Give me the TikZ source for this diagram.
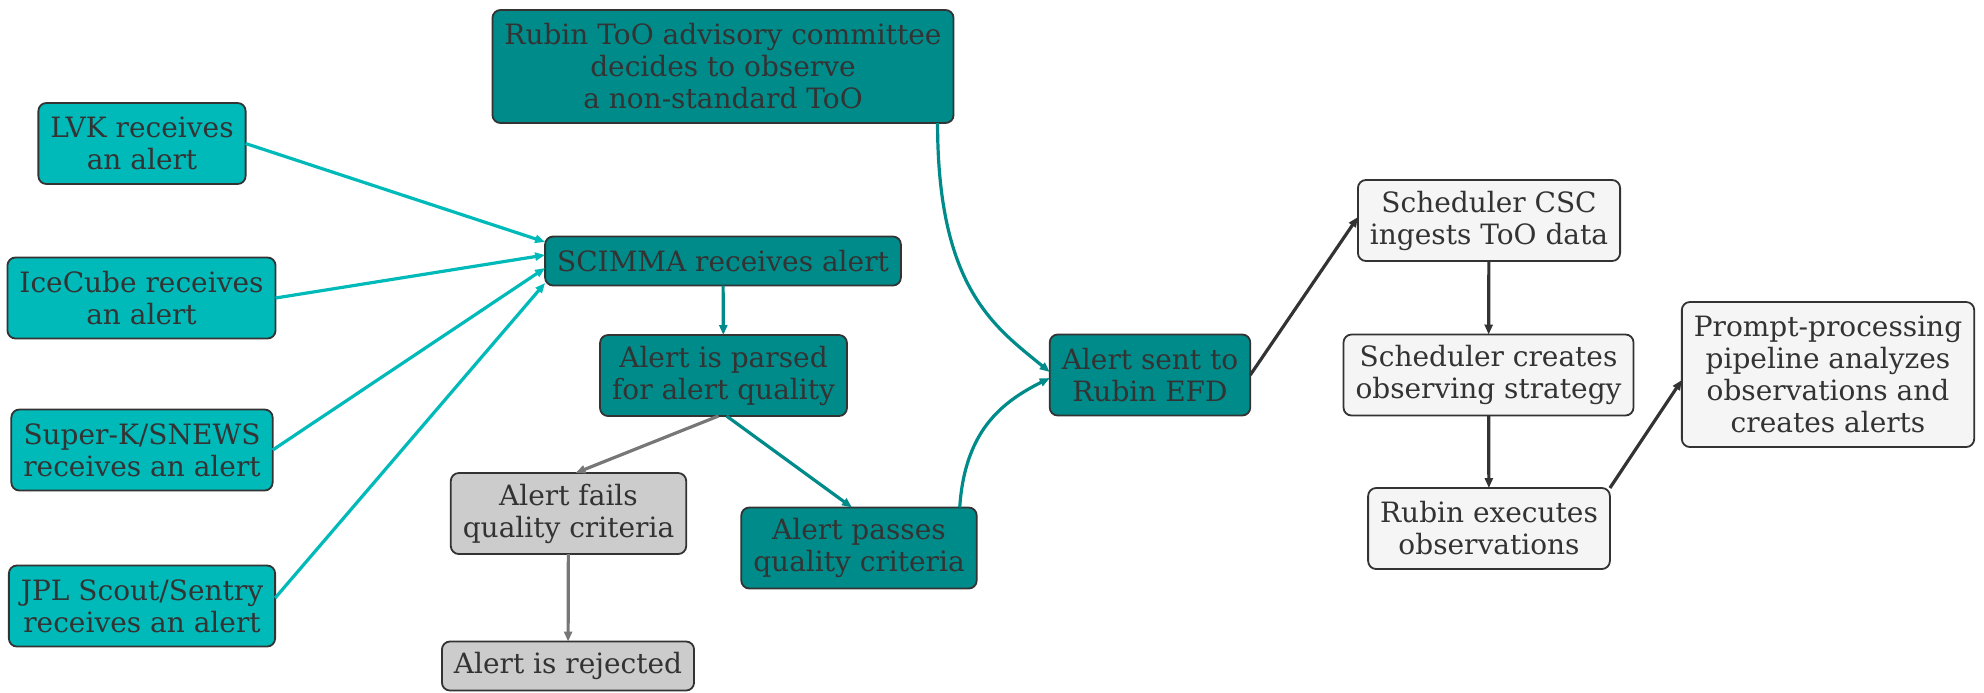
\documentclass[tikz,border=0pt]{standalone}
\usepackage{fontspec}
\setmainfont{DejaVu Serif}
\newcommand*{\boxfont}{\fontsize{14}{16}\selectfont}
\definecolor{alertsrc}{HTML}{00BABA}
\definecolor{alertcore}{HTML}{008B8B}
\definecolor{reject}{HTML}{CCCCCC}
\definecolor{sched}{HTML}{F5F5F5}
\definecolor{ink}{HTML}{333333}
\definecolor{dropline}{HTML}{777777}
\usepackage{tikz}
\usetikzlibrary{arrows.meta}
\usetikzlibrary{positioning}
\tikzstyle{base}=[x=0.5pt, y=-0.5pt]
\tikzstyle{box}=[draw=ink, line width=0.9pt, rounded corners=4pt, text=ink, font=\boxfont, align=center, inner xsep=6pt, inner ysep=2pt, outer sep=0pt]
\tikzset{rows/.style={minimum height={#1*16pt+8.5pt}}}
\tikzstyle{link}=[line width=1.6pt, -{Triangle[length=5pt,width=4pt]}]

\begin{document}
\begin{tikzpicture}[base]
    \path [use as bounding box] (0,0) rectangle (1984,692);
        \node [box, rows=2, fill=alertsrc] (lvk) at (142,143.5) {LVK receives\\an alert};
        \node [box, rows=2, fill=alertsrc] (icecube) at (141.5,298) {IceCube receives\\an alert};
        \node [box, rows=2, fill=alertsrc] (superk) at (142,450) {Super-K/SNEWS\\receives an alert};
        \node [box, rows=2, fill=alertsrc] (jpl) at (142,606) {JPL Scout/Sentry\\receives an alert};
        \node [box, rows=3, fill=alertcore] (committee) at (723,66.5) {Rubin ToO advisory committee\\decides to observe\\a non-standard ToO};
        \node [box, rows=1, fill=alertcore] (scimma) at (723,261) {SCIMMA receives alert};
        \node [box, rows=2, fill=alertcore] (parsed) at (723.5,375.5) {Alert is parsed\\for alert quality};
        \node [box, rows=2, fill=reject] (fails) at (568.5,513.5) {Alert fails\\quality criteria};
        \node [box, rows=2, fill=alertcore] (passes) at (859,548) {Alert passes\\quality criteria};
        \node [box, rows=1, fill=reject] (rejected) at (568,666) {Alert is rejected};
        \node [box, rows=2, fill=alertcore] (efd) at (1150,375) {Alert sent to\\Rubin EFD};
        \node [box, rows=2, fill=sched] (csc) at (1489,220.5) {Scheduler CSC\\ingests ToO data};
        \node [box, rows=2, fill=sched] (strategy) at (1488.5,375) {Scheduler creates\\observing strategy};
        \node [box, rows=2, fill=sched] (executes) at (1489,528.5) {Rubin executes\\observations};
        \node [box, rows=4, fill=sched] (prompt) at (1828,374.5) {Prompt-processing\\pipeline analyzes\\observations and\\creates alerts};

        \draw [link, alertsrc] (lvk.east) -- ([yshift=9.5pt]scimma.west);
        \draw [link, alertsrc] (icecube.east) -- ([yshift=3pt]scimma.west);
        \draw [link, alertsrc] (superk.east) -- ([yshift=-3.5pt]scimma.west);
        \draw [link, alertsrc] ([yshift=4pt]jpl.east) -- ([yshift=-11pt]scimma.west);
        \draw [link, alertcore] (scimma) -- (parsed);
        \draw [link, dropline] ([xshift=-2.5pt]parsed.south) -- ([xshift=3.5pt]fails.north);
        \draw [link, alertcore] ([xshift=1.5pt]parsed.south) -- ([xshift=-3.5pt]passes.north);
        \draw [link, dropline] (fails) -- (rejected);
        \draw [link, alertcore] ([xshift=-8pt]committee.south east) .. controls +(0,165) and +(-55,-45) .. ([yshift=1.5pt]efd.west);
        \draw [link, alertcore] ([xshift=-8.5pt]passes.north east) .. controls +(5,-75) and +(-50,25) .. ([yshift=-1.5pt]efd.west);
        \draw [link, ink] (efd.east) -- ([yshift=1.75pt]csc.west);
        \draw [link, ink] (csc) -- (strategy);
        \draw [link, ink] (strategy) -- (executes);
        \draw [link, ink] (executes.north east) -- ([yshift=-2.75pt]prompt.west);
    \end{tikzpicture}
\end{document}
